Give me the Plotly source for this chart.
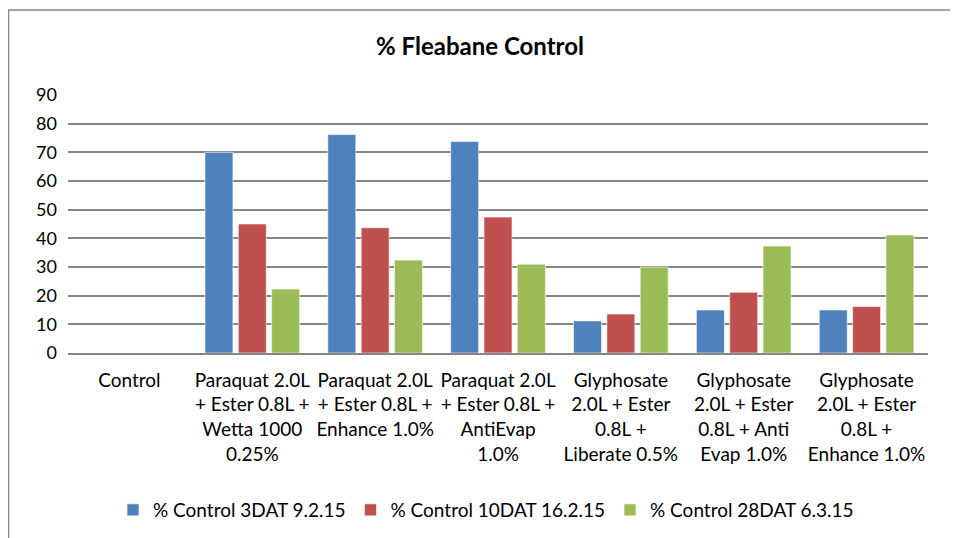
import plotly.graph_objects as go

categories = [
    "Control",
    "Paraquat 2.0L<br>+ Ester 0.8L +<br>Wetta 1000<br>0.25%",
    "Paraquat 2.0L<br>+ Ester 0.8L +<br>Enhance 1.0%",
    "Paraquat 2.0L<br>+ Ester 0.8L +<br>AntiEvap<br>1.0%",
    "Glyphosate<br>2.0L + Ester<br>0.8L +<br>Liberate 0.5%",
    "Glyphosate<br>2.0L + Ester<br>0.8L + Anti<br>Evap 1.0%",
    "Glyphosate<br>2.0L + Ester<br>0.8L +<br>Enhance 1.0%",
]
series_names = ["% Control 3DAT 9.2.15", "% Control 10DAT 16.2.15", "% Control 28DAT 6.3.15"]
dat3 = [0, 70.0, 76.2, 73.8, 11.2, 15.0, 15.0]
dat10 = [0, 45.0, 43.7, 47.4, 13.6, 21.2, 16.2]
dat28 = [0, 22.3, 32.4, 31.0, 30.0, 37.3, 41.2]
colors = ["#4F81BD", "#C0504D", "#9BBB59"]
y_ticks = [0, 10, 20, 30, 40, 50, 60, 70, 80, 90]

FONT = "Lato, sans-serif"

L, T, PW, PH = 60, 87, 860, 258

fig = go.Figure()
for name, vals, col in zip(series_names, [dat3, dat10, dat28], colors):
    fig.add_trace(go.Bar(
        x=categories, y=vals, name=name,
        marker=dict(color=col, line=dict(color="rgba(255,255,255,0.6)", width=1)),
    ))

fig.update_layout(
    width=958, height=538,
    margin=dict(l=L, r=958 - L - PW, t=T, b=538 - T - PH, autoexpand=False),
    paper_bgcolor="white", plot_bgcolor="white",
    barmode="group", bargap=0.186, bargroupgap=0.16,
    font=dict(family=FONT, size=19, color="#000000"),
    title=dict(text="<b>% Fleabane Control</b>", x=(472 - L) / PW, xref="paper", xanchor="center",
               y=1 - 39 / 538, yanchor="middle", font=dict(family=FONT, size=24, color="#000000")),
    showlegend=True,
    legend=dict(orientation="h", x=(486 - 8 - L) / PW, xanchor="center", y=(T + PH - 502) / PH,
                yanchor="middle", font=dict(family=FONT, size=19), traceorder="normal",
                bgcolor="rgba(0,0,0,0)"),
    xaxis=dict(showgrid=False, showline=True, linecolor="#868686", linewidth=1.5,
               ticks="", tickfont=dict(family=FONT, size=19), tickangle=0, ticklabelstandoff=9),
    yaxis=dict(range=[0, 90], tickvals=y_ticks, showgrid=True, gridcolor="#868686",
               gridwidth=1.5, zeroline=False, showline=False, ticks="",
               tickfont=dict(family=FONT, size=18), ticklabelstandoff=10),
    shapes=[dict(type="rect", xref="paper", yref="paper",
                 x0=(0.5 - L) / PW, x1=(945 - L) / PW,
                 y0=(T + PH - 545) / PH, y1=(T + PH - 2) / PH,
                 line=dict(color="#868686", width=1.5), fillcolor="rgba(0,0,0,0)", layer="below")],
)

fig.write_html("out.html")
